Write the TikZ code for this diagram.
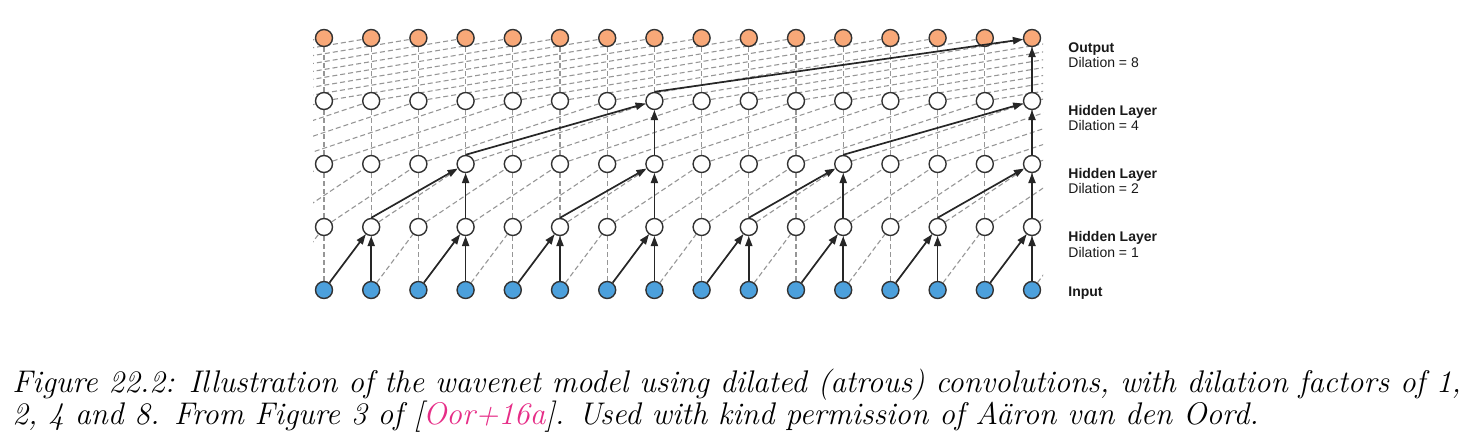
\documentclass[tikz,border=0pt]{standalone}
\usepackage{fontspec}
\newfontfamily\labfont{Liberation Sans}
\usetikzlibrary{arrows.meta,backgrounds}
\definecolor{outfill}{RGB}{248,168,120}
\definecolor{infill}{RGB}{76,160,220}
\definecolor{nodeline}{RGB}{50,50,50}
\definecolor{dashgray}{RGB}{150,150,150}
\definecolor{citepink}{RGB}{230,45,135}
\begin{document}
\begin{tikzpicture}[x=0.5pt,y=-0.5pt,
  unit/.style={circle,draw=nodeline,line width=0.7pt,minimum size=8.5pt,inner sep=0pt},
  inunit/.style={unit,fill=infill},
  hidunit/.style={unit,fill=white},
  outunit/.style={unit,fill=outfill},
  faint/.style={draw=dashgray,line width=0.55pt,dash pattern=on 2.5pt off 1.5pt},
  conn/.style={draw=black!85,line width=0.85pt,-{Triangle[length=5pt,width=3.6pt]}},
  lab/.style={font=\labfont\fontsize{7}{8}\selectfont,anchor=base west,inner sep=0pt,text=black!90},
  captext/.style={font=\fontsize{15.65}{18}\selectfont\itshape,anchor=base west,inner sep=0pt}
]
\useasboundingbox (0,0) rectangle (1470,443);
% units
\foreach \i in {-8,...,23}{
  \pgfmathsetmacro\xx{324+47.2*\i}
  \ifnum\i<0 \def\vis{0}\else\ifnum\i>15 \def\vis{0}\else\def\vis{1}\fi\fi
  \ifnum\vis=1
    \node[inunit]  (n0-\i) at (\xx,290) {};
    \node[hidunit] (n1-\i) at (\xx,227) {};
    \node[hidunit] (n2-\i) at (\xx,164) {};
    \node[hidunit] (n3-\i) at (\xx,101) {};
    \node[outunit] (n4-\i) at (\xx,38) {};
  \else
    \coordinate (n0-\i) at (\xx,290);
    \coordinate (n1-\i) at (\xx,227);
    \coordinate (n2-\i) at (\xx,164);
    \coordinate (n3-\i) at (\xx,101);
    \coordinate (n4-\i) at (\xx,38);
  \fi
}
% faint dashed connections
\begin{scope}[on background layer]
\clip (313,0) rectangle (1043,443);
\foreach \l/\d in {1/1,2/2,3/4,4/8}{
  \pgfmathtruncatemacro\lo{\l-1}
  \pgfmathtruncatemacro\s{-\d}
  \foreach \i in {0,...,15} \draw[faint] (n\lo-\i) -- (n\l-\i);
  \foreach \i in {\s,...,15}{
    \pgfmathtruncatemacro\j{\i+\d}
    \draw[faint] (n\lo-\i) -- (n\l-\j);
  }
}
\end{scope}
% solid receptive-field arrows
\foreach \j in {1,3,...,15}{
  \pgfmathtruncatemacro\k{\j-1}
  \draw[conn] (n0-\k) -- (n1-\j);
  \draw[conn] (n0-\j) -- (n1-\j);
}
\foreach \j in {3,7,11,15}{
  \pgfmathtruncatemacro\k{\j-2}
  \draw[conn] (n1-\k.north) -- (n2-\j);
  \draw[conn] (n1-\j) -- (n2-\j);
}
\foreach \j in {7,15}{
  \pgfmathtruncatemacro\k{\j-4}
  \draw[conn] (n2-\k.north) -- (n3-\j);
  \draw[conn] (n2-\j) -- (n3-\j);
}
\draw[conn] (n3-7.north) -- (n4-15);
\draw[conn] (n3-15) -- (n4-15);
% labels
\node[lab] (l4a) at (1068,53) {\bfseries Output};
\node[lab] (l4b) at (1068,68) {Dilation = 8};
\node[lab] (l3a) at (1068,116) {\bfseries Hidden Layer};
\node[lab] (l3b) at (1068,131) {Dilation = 4};
\node[lab] (l2a) at (1068,179) {\bfseries Hidden Layer};
\node[lab] (l2b) at (1068,194) {Dilation = 2};
\node[lab] (l1a) at (1068,242) {\bfseries Hidden Layer};
\node[lab] (l1b) at (1068,257) {Dilation = 1};
\node[lab] (l0a) at (1068,296) {\bfseries Input};
% caption
\node[captext] (cap1) at (12,392) {Figure 22.2: Illustration of the wavenet model using dilated (atrous) convolutions, with dilation factors of 1,};
\node[captext] (cap2) at (12,424) {2, 4 and 8. From Figure 3 of [\textcolor{citepink}{Oor+16a}]. Used with kind permission of Aäron van den Oord.};
\end{tikzpicture}
\end{document}
